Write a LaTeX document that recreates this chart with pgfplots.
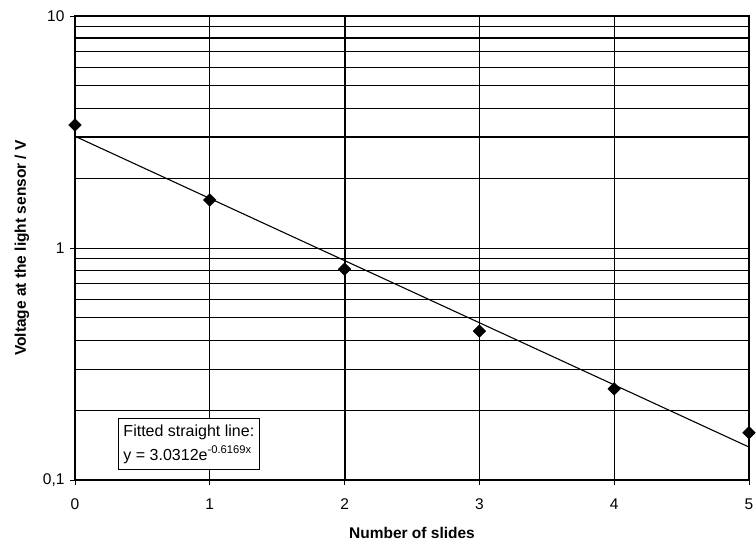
\documentclass[border=0pt]{standalone}
\usepackage{pgfplots}
\pgfplotsset{compat=1.18}
\usepackage{fontspec}
\setmainfont{Liberation Sans}
\begin{document}
\begin{tikzpicture}[x=1pt,y=1pt]
\path[use as bounding box] (-75,-64) rectangle (681,480);
\begin{axis}[
  at={(0,0)}, anchor=south west,
  scale only axis, width=674pt, height=464pt,
  xmin=0, xmax=5, ymode=log, ymin=0.1, ymax=10,
  xtick={0,1,2,3,4,5},
  ytick={0.1,1,10}, yticklabels={{0,1},1,10},
  minor ytick={0.2,0.3,0.4,0.5,0.6,0.7,0.8,0.9,2,3,4,5,6,7,8,9},
  grid=both,
  major grid style={black, line width=0.9pt},
  minor grid style={black, line width=0.9pt},
  axis line style={black, line width=1.4pt},
  tick style={black, line width=0.9pt},
  major tick length=5pt, minor tick length=0pt,
  tick align=outside,
  xtick pos=bottom, ytick pos=left,
  /pgf/number format/assume math mode=true,
  tick label style={font=\fontsize{15.5}{17}\selectfont},
  label style={font=\fontsize{15.5}{17}\selectfont\bfseries},
  xlabel={Number of slides},
  ylabel={Voltage at the light sensor / V},
  xlabel style={yshift=-6pt},
  ylabel style={yshift=2pt},
  xticklabel style={yshift=-10pt},
  yticklabel style={xshift=-2pt},
  extra y ticks={3,8}, extra y tick labels={},
  extra y tick style={major grid style={black, line width=2pt}, major tick length=0pt},
  extra x ticks={2,5}, extra x tick labels={},
  extra x tick style={major grid style={black, line width=2pt}, major tick length=0pt},
  clip=false,
]
\addplot[black, line width=1.1pt, no marks] coordinates {(0,3.0312) (5,0.13869)};
\addplot[only marks, mark=square*, mark size=4.5pt, mark options={rotate=45, fill=black, draw=black}] coordinates {
(0,3.39) (1,1.61) (2,0.81) (3,0.438) (4,0.247) (5,0.160)};
\node[draw=black, line width=1pt, fill=white, anchor=north west, align=left, inner xsep=5pt, inner ysep=6pt,
  font=\fontsize{16}{24}\selectfont] at (rel axis cs:0.0638,0.1336)
  {Fitted straight line:\\y = 3.0312e\textsuperscript{-0.6169x}};
\end{axis}
\end{tikzpicture}
\end{document}
